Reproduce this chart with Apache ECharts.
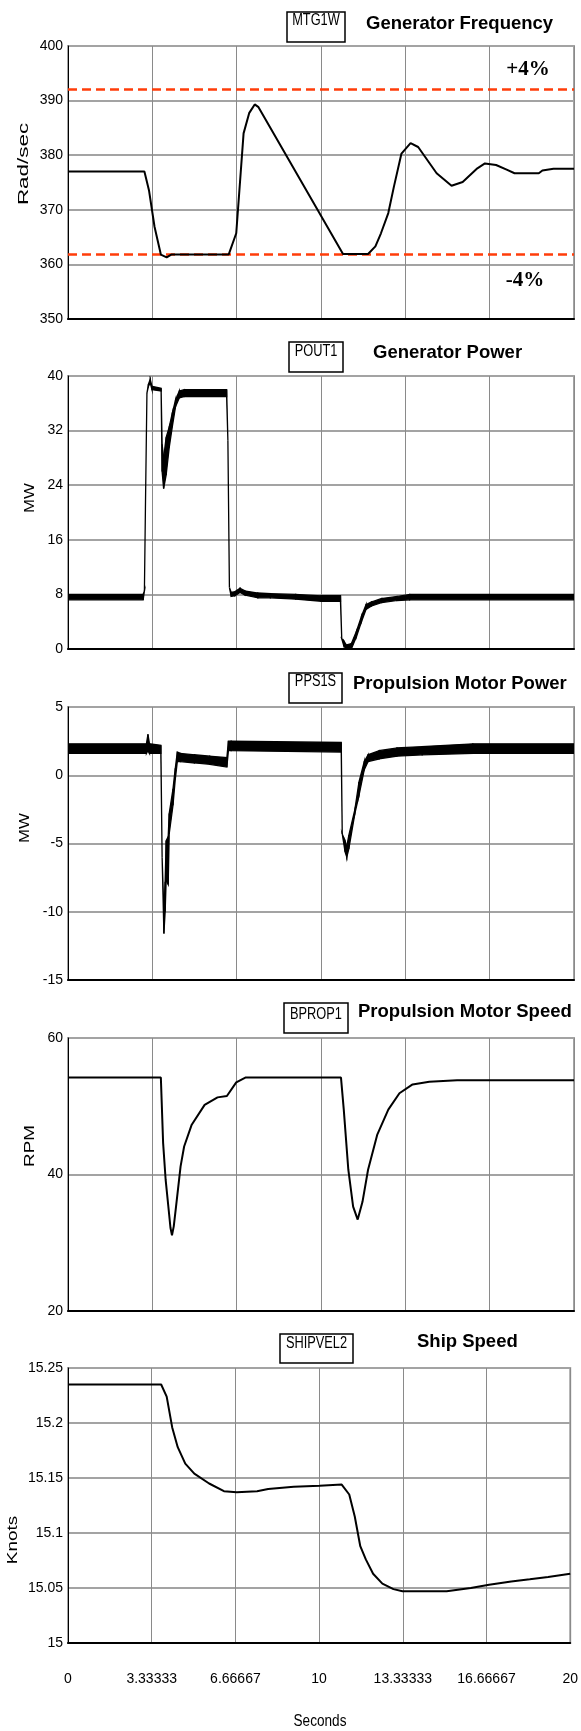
<!DOCTYPE html>
<html>
<head>
<meta charset="utf-8">
<script src="https://cdn.jsdelivr.net/npm/echarts@6/dist/echarts.min.js"></script>
<style>
html,body{margin:0;padding:0;background:#fff;}
#c{width:581px;height:1731px;}
</style>
</head>
<body>
<div id="c"></div>
<script>
// ---------- DATA ----------
var xTickLabels = ['0', '3.33333', '6.66667', '10', '13.33333', '16.66667', '20'];
var seriesCodes = ['MTG1W', 'POUT1', 'PPS1S', 'BPROP1', 'SHIPVEL2'];
var panelTitles = ['Generator Frequency', 'Generator Power', 'Propulsion Motor Power', 'Propulsion Motor Speed', 'Ship Speed'];
var yNames = ['Rad/sec', 'MW', 'MW', 'RPM', 'Knots'];
var xName = 'Seconds';

// Generator frequency (Rad/sec)
var freqT = [0, 3.02, 3.2, 3.42, 3.67, 3.9, 4.08, 6.35, 6.65, 6.94, 7.16, 7.38, 7.53, 10.87, 11.86, 12.15, 12.37, 12.66, 12.88, 13.18, 13.54, 13.84, 14.57, 15.16, 15.6, 16.18, 16.48, 16.92, 17.36, 17.65, 18.61, 18.75, 19.19, 20];
var freqV = [377, 377, 373.6, 366.9, 361.8, 361.3, 361.8, 361.8, 365.7, 384.0, 387.7, 389.3, 388.8, 361.9, 361.9, 363.3, 365.7, 369.4, 374.2, 380.3, 382.2, 381.5, 376.7, 374.4, 375.1, 377.6, 378.5, 378.2, 377.3, 376.7, 376.7, 377.2, 377.5, 377.5];
var freqLimits = [392.08, 361.92];
var limitLabels = ['+4%', '-4%'];

// Generator power (MW) - noisy band: lower / upper envelope
var genT  = [0, 2.97, 3.02, 3.06, 3.12, 3.18, 3.25, 3.32, 3.68, 3.72, 3.78, 3.88, 4.0, 4.12, 4.25, 4.4, 4.6, 6.27, 6.32, 6.38, 6.45, 6.6, 6.8, 7.0, 7.5, 8.0, 9.0, 10.0, 10.77, 10.82, 10.9, 11.0, 11.2, 11.4, 11.6, 11.78, 12.0, 12.4, 13.0, 13.5, 20];
var genLo = [7.2, 7.2, 8.5, 20.5, 37.5, 38.5, 39.0, 38.0, 37.8, 26.0, 23.5, 25.5, 29.5, 32.5, 35.5, 36.8, 37.0, 37.0, 30.5, 9.0, 7.7, 7.8, 8.3, 7.9, 7.5, 7.5, 7.3, 7.0, 7.0, 1.5, 0.5, 0.0, 0.0, 1.8, 4.0, 5.8, 6.3, 6.8, 7.1, 7.2, 7.2];
var genHi = [8.0, 8.0, 8.5, 20.5, 37.5, 38.8, 39.5, 38.5, 38.2, 30.0, 28.0, 31.0, 32.5, 34.5, 36.5, 37.8, 38.0, 38.0, 30.5, 9.0, 8.3, 8.4, 8.9, 8.5, 8.2, 8.1, 8.0, 7.8, 7.8, 1.5, 1.2, 0.6, 0.8, 2.6, 4.8, 6.5, 6.9, 7.4, 7.7, 8.0, 8.0];

// Propulsion motor power (MW) - noisy band
var pmpT  = [0, 3.1, 3.16, 3.22, 3.67, 3.72, 3.79, 3.84, 3.88, 3.96, 4.0, 4.15, 4.24, 4.32, 4.45, 5.0, 5.6, 6.28, 6.34, 6.45, 10.8, 10.84, 10.95, 11.02, 11.1, 11.34, 11.5, 11.71, 11.86, 12.3, 13.0, 14.0, 16.0, 20];
var pmpLo = [1.6, 1.6, 1.8, 1.6, 1.6, -6.0, -11.6, -10.0, -7.7, -8.0, -4.3, -2.2, -0.3, 1.0, 1.0, 0.9, 0.8, 0.6, 1.8, 1.8, 1.7, -4.3, -5.6, -6.0, -5.4, -2.8, -1.5, 0.4, 1.0, 1.2, 1.4, 1.5, 1.6, 1.6];
var pmpHi = [2.3, 2.3, 3.0, 2.3, 2.2, -6.0, -10.0, -7.8, -4.8, -4.5, -2.8, -1.0, 0.5, 1.7, 1.6, 1.5, 1.4, 1.3, 2.5, 2.5, 2.4, -4.3, -4.8, -5.2, -4.4, -2.5, -0.5, 1.0, 1.5, 1.8, 2.0, 2.1, 2.3, 2.3];

// Propulsion motor speed (RPM)
var rpmT = [0, 3.67, 3.76, 3.86, 3.98, 4.05, 4.11, 4.18, 4.27, 4.45, 4.59, 4.89, 5.4, 5.91, 6.28, 6.65, 7.01, 10.79, 10.9, 11.08, 11.27, 11.45, 11.64, 11.86, 12.22, 12.66, 13.1, 13.62, 14.28, 15.38, 20];
var rpmV = [54.2, 54.2, 44.6, 39.2, 34.8, 32.2, 31.1, 32.4, 35.3, 41.2, 44.1, 47.3, 50.2, 51.3, 51.5, 53.5, 54.2, 54.2, 49.5, 40.7, 35.3, 33.4, 36.0, 40.7, 45.8, 49.5, 51.9, 53.2, 53.6, 53.8, 53.8];

// Ship speed (knots)
var shipT = [0, 3.71, 3.93, 4.15, 4.37, 4.67, 5.03, 5.62, 6.21, 6.72, 7.53, 7.97, 8.99, 10.02, 10.9, 11.2, 11.42, 11.64, 11.86, 12.15, 12.52, 12.96, 13.32, 15.08, 16.04, 16.77, 17.65, 18.39, 19.12, 20];
var shipV = [15.235, 15.235, 15.224, 15.196, 15.178, 15.163, 15.154, 15.145, 15.138, 15.137, 15.138, 15.14, 15.142, 15.143, 15.144, 15.135, 15.115, 15.088, 15.076, 15.063, 15.054, 15.049, 15.047, 15.047, 15.05, 15.053, 15.056, 15.058, 15.06, 15.063];

// Y axis ranges
var yMin = [350, 0, -15, 20, 15];
var yMax = [400, 40, 5, 60, 15.25];
var yInterval = [10, 8, 5, 20, 0.05];

// ---------- LAYOUT ----------
var gridTops = [46, 376, 707, 1038, 1368];
var gridHeights = [273, 273, 273, 273, 275];
var TICKFONT = "'Liberation Sans',Arial,sans-serif";
var SANS = "'Liberation Sans',Arial,sans-serif";
var SERIF = "'Liberation Serif','Times New Roman',serif";

function zip(a, b) { return a.map(function (v, i) { return [v, b[i]]; }); }

var grids = [], xAxes = [], yAxes = [], series = [];
for (var i = 0; i < 5; i++) {
  grids.push({ left: 68, right: 7, top: gridTops[i], height: gridHeights[i], show: true, borderColor: '#a3a3a3', borderWidth: 2, backgroundColor: '#fff' });
  xAxes.push({
    gridIndex: i, type: 'value', min: 0, max: 20, interval: 20 / 6,
    axisLine: { show: true, onZero: false, lineStyle: { color: '#000', width: 2 } },
    axisTick: { show: false },
    splitLine: { show: true, lineStyle: { color: '#8a8a8a', width: 1 } },
    axisLabel: {
      show: i === 4, margin: 29, color: '#000', fontFamily: TICKFONT, fontSize: 14,
      formatter: function (v) { return xTickLabels[Math.round(v / (20 / 6))]; }
    }
  });
  yAxes.push({
    gridIndex: i, type: 'value', min: yMin[i], max: yMax[i], interval: yInterval[i],
    axisLine: { show: true, onZero: false, lineStyle: { color: '#000', width: 1 } },
    axisTick: { show: false },
    splitLine: { show: true, lineStyle: { color: '#a3a3a3', width: 2 } },
    axisLabel: {
      margin: 5, color: '#000', fontFamily: TICKFONT, fontSize: 14,
      formatter: function (v) { return String(parseFloat(v.toFixed(2))); }
    }
  });
}

function line(idx, data, extra) {
  var s = { type: 'line', showSymbol: false, symbol: 'none', silent: true, animation: false, z: 5,
    xAxisIndex: idx, yAxisIndex: idx, data: data, lineStyle: { color: '#000', width: 2 } };
  return Object.assign(s, extra || {});
}
// band (noisy signal envelope) drawn as polygons through the axis scales
function band(idx, T, LO, HI) {
  return {
    type: 'custom', xAxisIndex: idx, yAxisIndex: idx, silent: true, animation: false, clip: true, z: 5,
    data: T.map(function (t, j) { return [t, LO[j], HI[j]]; }),
    renderItem: function (params, api) {
      var j = params.dataIndex;
      if (j >= T.length - 1) return null;
      var pts = [
        api.coord([T[j], LO[j]]), api.coord([T[j + 1], LO[j + 1]]),
        api.coord([T[j + 1], HI[j + 1]]), api.coord([T[j], HI[j]])
      ];
      return { type: 'polygon', shape: { points: pts }, style: { fill: '#000', stroke: '#000', lineWidth: 1.3 } };
    }
  };
}

series.push(line(0, zip(freqT, freqV), {
  markLine: {
    silent: true, symbol: 'none', animation: false,
    label: { show: false },
    lineStyle: { color: '#ff3d0a', type: [9, 5], width: 2.5 },
    data: freqLimits.map(function (v) { return { yAxis: v }; })
  }
}));
series.push(band(1, genT, genLo, genHi));
series.push(band(2, pmpT, pmpLo, pmpHi));
series.push(line(3, zip(rpmT, rpmV)));
series.push(line(4, zip(shipT, shipV)));

// ---------- TEXT GRAPHICS ----------
var boxes = [
  { x: 287, y: 12, w: 58, h: 30, ty: 21 },
  { x: 289, y: 342, w: 54, h: 30, ty: 352 },
  { x: 289, y: 673, w: 53, h: 30, ty: 682 },
  { x: 284, y: 1003, w: 64, h: 30, ty: 1015 },
  { x: 280, y: 1334, w: 73, h: 29, ty: 1344 }
];
var titlePos = [
  { x: 366, y: 24 }, { x: 373, y: 353 }, { x: 353, y: 684 }, { x: 358, y: 1012 }, { x: 417, y: 1342 }
];
var yNamePos = [
  { x: 24, y: 164, s: 1.6 }, { x: 30, y: 498, s: 1.2 }, { x: 25, y: 828, s: 1.2 }, { x: 30, y: 1146, s: 1.35 }, { x: 13, y: 1540, s: 1.35 }
];
var graphics = [];
for (var k = 0; k < 5; k++) {
  var b = boxes[k];
  graphics.push({ type: 'rect', shape: { x: b.x, y: b.y, width: b.w, height: b.h }, style: { fill: '#fff', stroke: '#000', lineWidth: 1.5 }, z: 10 });
  graphics.push({ type: 'text', x: b.x + b.w / 2, y: b.ty, scaleX: 0.8, scaleY: 1, z: 11,
    style: { text: seriesCodes[k], font: '16px ' + SANS, fill: '#000', textAlign: 'center', textVerticalAlign: 'middle', align: 'center', verticalAlign: 'middle' } });
  graphics.push({ type: 'text', x: titlePos[k].x, y: titlePos[k].y, z: 11,
    style: { text: panelTitles[k], font: 'bold 18.5px ' + SANS, fill: '#000', textAlign: 'left', textVerticalAlign: 'middle', align: 'left', verticalAlign: 'middle' } });
  var yp = yNamePos[k];
  graphics.push({ type: 'text', x: yp.x, y: yp.y, rotation: Math.PI / 2, scaleX: yp.s, scaleY: 1, z: 11,
    style: { text: yNames[k], font: '14px ' + SANS, fill: '#000', textAlign: 'center', textVerticalAlign: 'middle', align: 'center', verticalAlign: 'middle' } });
}
graphics.push({ type: 'text', x: 528, y: 70, z: 11,
  style: { text: limitLabels[0], font: 'bold 21px ' + SERIF, fill: '#000', textAlign: 'center', textVerticalAlign: 'middle', align: 'center', verticalAlign: 'middle' } });
graphics.push({ type: 'text', x: 525, y: 281, z: 11,
  style: { text: limitLabels[1], font: 'bold 21px ' + SERIF, fill: '#000', textAlign: 'center', textVerticalAlign: 'middle', align: 'center', verticalAlign: 'middle' } });
graphics.push({ type: 'text', x: 320, y: 1722, scaleX: 0.85, scaleY: 1, z: 11,
  style: { text: xName, font: '16px ' + SANS, fill: '#000', textAlign: 'center', textVerticalAlign: 'middle', align: 'center', verticalAlign: 'middle' } });

var chart = echarts.init(document.getElementById('c'), null, { renderer: 'canvas', width: 581, height: 1731 });
chart.setOption({
  animation: false,
  backgroundColor: '#fff',
  grid: grids,
  xAxis: xAxes,
  yAxis: yAxes,
  series: series,
  graphic: graphics
});
</script>
</body>
</html>
